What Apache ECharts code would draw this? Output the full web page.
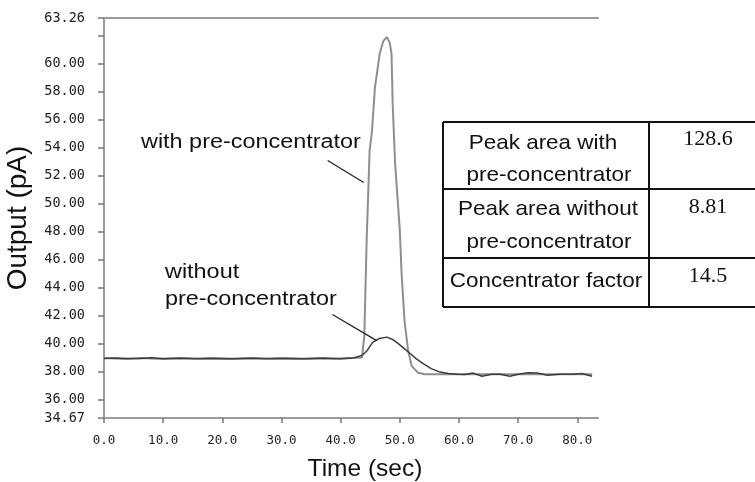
<!DOCTYPE html>
<html>
<head>
<meta charset="utf-8">
<script src="https://cdn.jsdelivr.net/npm/echarts@6/dist/echarts.min.js"></script>
<style>html,body{margin:0;padding:0;background:#fff}#c{width:755px;height:482px}</style>
</head>
<body>
<div id="c"></div>
<script>
// ---- data ----
const timePre = [0,3,6,9,12,15,18,21,24,27,30,33,36,39,42,43.6,44.0,44.2,44.4,44.9,45.3,45.8,46.6,47.2,47.8,48.3,48.6,48.8,49.2,50.0,50.3,50.8,51.4,52.0,53.1,54.2,56,60,65,70,75,80,82.5];
const outputPre = [38.95,38.9,38.95,38.9,38.93,38.9,38.95,38.9,38.93,38.9,38.95,38.9,38.93,38.9,38.95,39.0,40.5,44.0,47.4,53.8,55.2,58.3,60.7,61.6,61.9,61.5,60.7,57.1,52.9,48.1,45.0,41.6,39.5,38.4,37.9,37.8,37.8,37.8,37.8,37.8,37.8,37.8,37.8];
const timeNoPre = [0,2,4,6,8,10,13,16,19,22,25,28,31,34,37,40,42,43.6,44.5,45.4,46.5,47.8,48.7,49.7,50.7,51.7,52.8,53.9,55.3,56.8,58.2,59.7,61,62.4,63.9,65.5,67,68.6,70,71.7,73.2,75,77,79,80.8,82.5];
const outputNoPre = [38.92,38.95,38.9,38.93,38.97,38.9,38.95,38.9,38.93,38.9,38.95,38.9,38.93,38.9,38.95,38.9,38.95,39.14,39.5,40.07,40.35,40.45,40.3,40.0,39.65,39.3,38.9,38.57,38.2,37.95,37.85,37.8,37.78,37.88,37.65,37.8,37.8,37.65,37.8,37.9,37.88,37.72,37.8,37.8,37.85,37.65];
const xTickValues = [0,10,20,30,40,50,60,70,80];
const yTickValues = [34.67,36,38,40,42,44,46,48,50,52,54,56,58,60,62,63.26];
const yLabelValues = [34.67,36,38,40,42,44,46,48,50,52,54,56,58,60,63.26];
const leaderWith = [[37.8,53.07],[43.9,51.5]];
const leaderWithout = [[38.6,42.07],[46.1,40.2]];
const annotWith = ["with pre-concentrator"];
const annotWithout = ["without","pre-concentrator"];
const tableLabels = [["Peak area with","pre-concentrator"],["Peak area without","pre-concentrator"],["Concentrator factor"]];
const tableValues = ["128.6","8.81","14.5"];

// ---- chart ----
const chart = echarts.init(document.getElementById('c'), null, {renderer:'canvas'});
const axisGray = '#9a9a9a';
const sans = 'Liberation Sans';

function txt(text, x, y, size, opts) {
  opts = opts || {};
  return {
    type:'text', x:x, y:y, scaleX: opts.scaleX || 1.2, z:100,
    style:{text:text, font: size+'px "'+(opts.family||sans)+'"', fill:'#111',
      align: opts.align||'left', verticalAlign:'middle'}
  };
}

const graphics = [];
// annotations
graphics.push(txt(annotWith[0], 141, 143, 19.5));
graphics.push(txt(annotWithout[0], 165, 273, 19.5));
graphics.push(txt(annotWithout[1], 165, 300, 19.5));
// table
const tL = 443, tDiv = 649, tR = 765;
const rowLines = [122,189,258,307];
const lineStyle = {stroke:'#111', lineWidth:2};
rowLines.forEach(function(y){
  graphics.push({type:'line', z:100, shape:{x1:tL,y1:y,x2:tR,y2:y}, style:lineStyle});
});
graphics.push({type:'line', z:100, shape:{x1:tL,y1:rowLines[0],x2:tL,y2:rowLines[3]}, style:lineStyle});
graphics.push({type:'line', z:100, shape:{x1:tDiv,y1:rowLines[0],x2:tDiv,y2:rowLines[3]}, style:lineStyle});
const labelYs = [[143,175],[209,242],[281]];
const labelXs = [[543,549],[548,549],[546]];
tableLabels.forEach(function(lines,i){
  lines.forEach(function(l,j){
    graphics.push(txt(l, labelXs[i][j], labelYs[i][j], 21, {align:'center', scaleX:1.07}));
  });
});
const valueYs = [139,207,276];
tableValues.forEach(function(v,i){
  graphics.push(txt(v, 708, valueYs[i], 22, {align:'center', scaleX:1.0, family:'Liberation Serif'}));
});

function pairs(t, v){ return t.map(function(x,i){return [x, v[i]];}); }

const option = {
  animation:false,
  backgroundColor:'#fff',
  grid:{left:104, right:157, top:18, bottom:64, containLabel:false, outerBoundsMode:'none'},
  xAxis:[{
    type:'value', min:0, max:83.5, interval:10,
    name:'Time (sec)', nameLocation:'middle', nameGap:39,
    nameTextStyle:{fontFamily:sans, fontSize:24.5, color:'#111', padding:[0,0,0,28]},
    axisLine:{show:true, lineStyle:{color:axisGray, width:2}},
    axisTick:{show:true, length:5, customValues:xTickValues, lineStyle:{color:'#777', width:1.5}},
    axisLabel:{customValues:xTickValues, margin:16, fontFamily:'DejaVu Sans Mono', fontSize:12.5, color:'#222',
      formatter:function(v){return v.toFixed(1);}},
    splitLine:{show:false}
  },{
    type:'value', position:'top', min:0, max:83.5,
    axisLine:{show:true, onZero:false, lineStyle:{color:axisGray, width:2}},
    axisTick:{show:false}, axisLabel:{show:false}, splitLine:{show:false}
  }],
  yAxis:{
    type:'value', min:34.67, max:63.26,
    name:'Output (pA)', nameLocation:'middle', nameGap:72, nameRotate:90,
    nameTextStyle:{fontFamily:sans, fontSize:28, color:'#111'},
    axisLine:{show:true, lineStyle:{color:axisGray, width:2}},
    axisTick:{show:true, length:6, customValues:yTickValues, lineStyle:{color:'#777', width:1.5}},
    axisLabel:{customValues:yLabelValues, margin:19, fontFamily:'DejaVu Sans Mono', fontSize:13.5, color:'#222',
      formatter:function(v){return v.toFixed(2);}},
    splitLine:{show:false}
  },
  series:[{
    name:'with pre-concentrator', type:'line', showSymbol:false, symbol:'none',
    data: pairs(timePre, outputPre),
    lineStyle:{color:'#8e8e8e', width:2},
    markLine:{silent:true, symbol:['none','none'], label:{show:false},
      lineStyle:{color:'#222', width:1.3, type:'solid'},
      data:[[{coord:leaderWith[0]},{coord:leaderWith[1]}]]}
  },{
    name:'without pre-concentrator', type:'line', showSymbol:false, symbol:'none',
    data: pairs(timeNoPre, outputNoPre),
    lineStyle:{color:'#3c3c3c', width:1.5},
    markLine:{silent:true, symbol:['none','none'], label:{show:false},
      lineStyle:{color:'#222', width:1.3, type:'solid'},
      data:[[{coord:leaderWithout[0]},{coord:leaderWithout[1]}]]}
  }],
  graphic: graphics
};
chart.setOption(option);
</script>
</body>
</html>
